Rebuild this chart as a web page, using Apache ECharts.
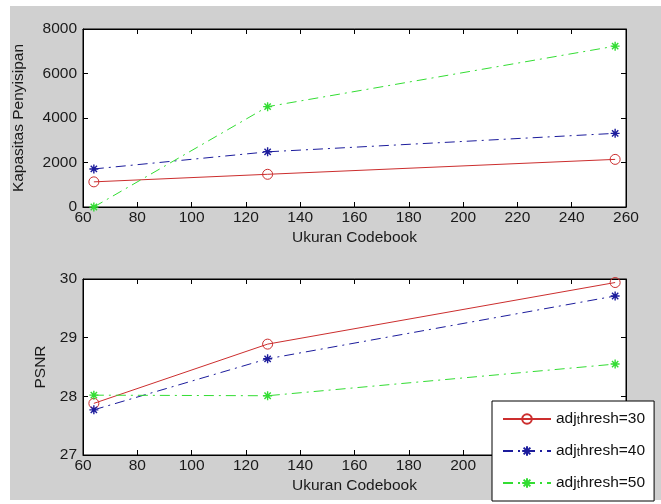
<!DOCTYPE html>
<html>
<head>
<meta charset="utf-8">
<script src="https://cdn.jsdelivr.net/npm/echarts@6/dist/echarts.min.js"></script>
<style>
  html, body { margin: 0; padding: 0; background: #fff; }
  #chart { width: 661px; height: 504px; }
</style>
</head>
<body>
<div id="chart"></div>
<script>
// codebook sizes
var codebook = [64, 128, 256];
var seriesNames = ['adj_thresh=30', 'adj_thresh=40', 'adj_thresh=50'];

// top plot: Kapasitas Penyisipan
var kap30 = [1130, 1470, 2140];
var kap40 = [1710, 2480, 3310];
var kap50 = [0, 4510, 7230];

// bottom plot: PSNR
var psnr30 = [27.88, 28.89, 29.94];
var psnr40 = [27.77, 28.64, 29.71];
var psnr50 = [28.02, 28.01, 28.55];

var colors = ['#cc2e2e', '#1c1c9c', '#33dd33'];
var star = 'path://M0,-10 L0,10 M-10,0 L10,0 M-7,-7 L7,7 M-7,7 L7,-7';
var dashDot = [10, 5, 2, 5];
var font = 'Liberation Sans, Arial, sans-serif';
var textCol = '#1a1a1a';

function pairs(ys) {
    return codebook.map(function (x, i) { return [x, ys[i]]; });
}

function makeSeries(name, idx, ys, grid) {
    var s = {
        name: name,
        type: 'line',
        xAxisIndex: grid * 2,
        yAxisIndex: grid * 2,
        data: pairs(ys),
        color: colors[idx],
        lineStyle: { width: 1, color: colors[idx], type: idx === 0 ? 'solid' : dashDot }
    };
    if (idx === 0) {
        s.symbol = 'circle';
        s.symbolSize = 10;
        s.itemStyle = { color: 'none', borderColor: colors[idx], borderWidth: 1 };
    } else {
        s.symbol = star;
        s.symbolSize = 9;
        s.itemStyle = { color: 'none', borderColor: colors[idx], borderWidth: 1.4 };
    }
    return s;
}

function xAxes(grid) {
    var base = {
        type: 'value', gridIndex: grid, min: 60, max: 260, interval: 20,
        axisLine: { show: true, onZero: false, lineStyle: { color: '#000' } },
        axisTick: { inside: true, length: 5, lineStyle: { color: '#000' } },
        splitLine: { show: false }
    };
    return [
        Object.assign({}, base, {
            position: 'bottom',
            name: 'Ukuran Codebook', nameLocation: 'middle', nameGap: 23,
            nameTextStyle: { fontFamily: font, fontSize: 15.5, color: textCol },
            axisLabel: { margin: 3, fontFamily: font, fontSize: 15.5, color: textCol }
        }),
        Object.assign({}, base, { position: 'top', axisLabel: { show: false } })
    ];
}

function yAxes(grid, min, max, interval, name, gap, margin) {
    var base = {
        type: 'value', gridIndex: grid, min: min, max: max, interval: interval,
        axisLine: { show: true, onZero: false, lineStyle: { color: '#000' } },
        axisTick: { inside: true, length: 5, lineStyle: { color: '#000' } },
        splitLine: { show: false }
    };
    return [
        Object.assign({}, base, {
            position: 'left',
            name: name, nameLocation: 'middle', nameGap: gap,
            nameTextStyle: { fontFamily: font, fontSize: 15.5, color: textCol },
            axisLabel: {
                margin: margin, fontFamily: font, fontSize: 15.5, color: textCol,
                formatter: function (v) { return String(v); }
            }
        }),
        Object.assign({}, base, { position: 'right', axisLabel: { show: false } })
    ];
}

var chart = echarts.init(document.getElementById('chart'));

var option = {
    backgroundColor: '#fff',
    animation: false,
    graphic: [{
        type: 'rect', left: 10, top: 6, z: -10,
        shape: { width: 651, height: 494 },
        style: { fill: '#d0d0d0' }
    }],
    grid: [
        { left: 83, top: 29, width: 543, height: 178, show: true, backgroundColor: '#fff', borderColor: '#000', borderWidth: 1 },
        { left: 83, top: 279, width: 543, height: 176, show: true, backgroundColor: '#fff', borderColor: '#000', borderWidth: 1 }
    ],
    xAxis: xAxes(0).concat(xAxes(1)),
    yAxis: yAxes(0, 0, 8000, 2000, 'Kapasitas Penyisipan', 56, 6)
        .concat(yAxes(1, 27, 30, 1, 'PSNR', 34, 6)),
    legend: {
        data: seriesNames,
        orient: 'vertical',
        left: 492,
        top: 401,
        backgroundColor: '#fff',
        borderColor: '#000',
        borderWidth: 1,
        borderRadius: 0,
        padding: [1, 9, 10, 10],
        itemWidth: 48,
        itemHeight: 12,
        itemGap: 7,
        formatter: function (name) {
            var parts = name.split('_t');
            return '{m|' + parts[0] + '}{s|t}{m|' + parts[1] + '}';
        },
        textStyle: {
            fontFamily: font,
            fontSize: 15.5,
            color: '#111',
            rich: {
                m: { fontFamily: font, fontSize: 15.5, lineHeight: 16, verticalAlign: 'top', color: '#111' },
                s: { fontFamily: font, fontSize: 12, lineHeight: 12, padding: [13, 0, 0, 0], verticalAlign: 'bottom', color: '#111' }
            }
        }
    },
    series: [
        makeSeries(seriesNames[0], 0, kap30, 0),
        makeSeries(seriesNames[1], 1, kap40, 0),
        makeSeries(seriesNames[2], 2, kap50, 0),
        makeSeries(seriesNames[0], 0, psnr30, 1),
        makeSeries(seriesNames[1], 1, psnr40, 1),
        makeSeries(seriesNames[2], 2, psnr50, 1)
    ]
};

chart.setOption(option);
</script>
</body>
</html>
